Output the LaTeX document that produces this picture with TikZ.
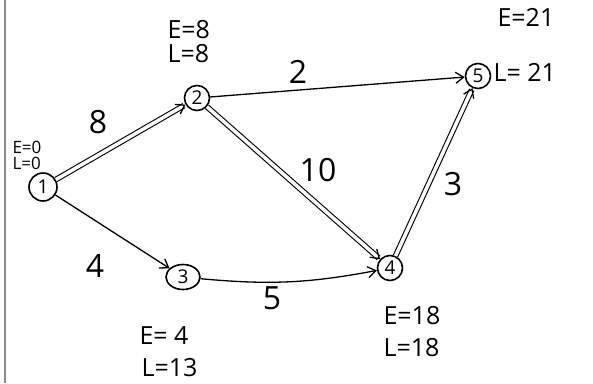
\documentclass[tikz,border=0pt]{standalone}
\usepackage{fontspec}
\setmainfont{Open Sans}
\usetikzlibrary{arrows.meta,shapes.geometric}
\begin{document}
\begin{tikzpicture}[x=1pt,y=-1pt,
  ev/.style={draw,circle,line width=1.6pt,minimum size=25pt,inner sep=0pt,font=\fontsize{19}{19}\selectfont},
  tip/.style={-{Straight Barb[length=8pt,width=11pt,line width=1.3pt]}},
  act/.style={line width=1.3pt,tip},
  crit/.style={line width=1.1pt,double,double distance=3.5pt,tip},
  lab/.style={font=\fontsize{25}{25}\selectfont},
  wt/.style={font=\fontsize{32}{32}\selectfont}]
\useasboundingbox (0,0) rectangle (593,383);
\coordinate (bt) at (5,0);
\coordinate (bb) at (5,383);
\draw[black!45,line width=1.2pt] (bt) -- (bb);
% events
\node[ev,minimum size=28pt] (n1) at (43,187) {1};
\node[ev] (n2) at (197,98) {2};
\node[ev,ellipse,minimum width=34pt,minimum height=25pt] (n3) at (183,277) {3};
\node[ev] (n4) at (390,268) {4};
\node[ev] (n5) at (478,76) {5};
% activities
\draw[crit] (n1) -- (n2);
\draw[act] (n2) -- (n5);
\draw[crit] (n2) -- (n4);
\draw[crit] (n4) -- (n5);
\draw[act] (n1) -- (n3);
\draw[act] (n3) to[bend right=8] (n4);
% durations
\node[wt] (w12) at (98,122) {8};
\node[wt] (w25) at (298,72) {2};
\node[wt] (w24) at (318,170) {10};
\node[wt] (w45) at (453,184) {3};
\node[wt] (w13) at (95,266) {4};
\node[wt] (w34) at (272,298) {5};
% event times
\node[lab,anchor=west,font=\fontsize{17}{17}\selectfont] (e1) at (9,147) {E=0};
\node[lab,anchor=west,font=\fontsize{17}{17}\selectfont] (l1) at (9,163) {L=0};
\node[lab,anchor=west] (e2) at (164,30) {E=8};
\node[lab,anchor=west] (l2) at (164,54) {L=8};
\node[lab,anchor=west] (e5) at (494,17) {E=21};
\node[lab,anchor=west] (l5) at (490,72) {L= 21};
\node[lab,anchor=west] (e3) at (136,336) {E= 4};
\node[lab,anchor=west] (l3) at (138,368) {L=13};
\node[lab,anchor=west] (e4) at (380,316) {E=18};
\node[lab,anchor=west] (l4) at (380,348) {L=18};
\end{tikzpicture}
\end{document}
